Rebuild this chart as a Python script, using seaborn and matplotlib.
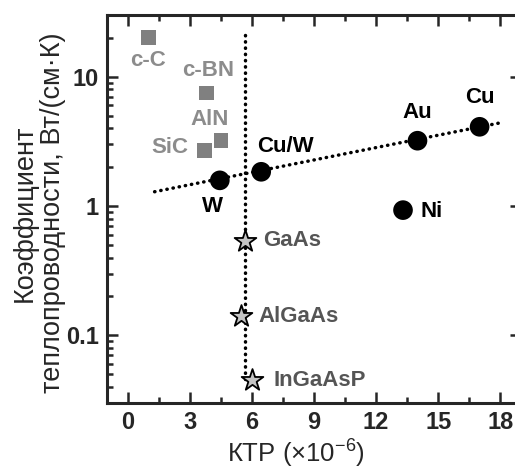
import numpy as np
import pandas as pd
import matplotlib
matplotlib.use("Agg")
import matplotlib.pyplot as plt
import seaborn as sns
from matplotlib.ticker import FixedLocator, LogLocator, NullFormatter, MultipleLocator

# metals (black circles)
metal_names = ["W", "Cu/W", "Au", "Cu", "Ni"]
metal_ktr = [4.45, 6.45, 14.0, 17.0, 13.3]
metal_k = [1.58, 1.84, 3.2, 4.1, 0.93]

# ceramics (gray squares)
cer_names = ["c-C", "c-BN", "AlN", "SiC"]
cer_ktr = [1.0, 3.8, 4.5, 3.7]
cer_k = [20.0, 7.5, 3.2, 2.7]

# semiconductors (stars)
semi_names = ["GaAs", "AlGaAs", "InGaAsP"]
semi_ktr = [5.65, 5.45, 6.0]
semi_k = [0.54, 0.14, 0.045]

# dotted guide lines
trend_x = [1.3, 18.0]
trend_y = [1.29, 4.4]
vert_x = [5.68, 5.68]
vert_y = [21.0, 0.046]

sns.set_theme(style="ticks")
plt.rcParams['font.family'] = ['Liberation Sans', 'DejaVu Sans']
plt.rcParams['mathtext.fontset'] = 'custom'
plt.rcParams['mathtext.rm'] = 'Liberation Sans'

fig = plt.figure(figsize=(5.15, 4.71), dpi=100)
ax = fig.add_axes([107/515, 1 - 403/471, (521-107)/515, (403-15)/471])

lw = dict(linestyle=(0, (0.1, 1.7)), linewidth=2.5, color="black",
          dash_capstyle="round", estimator=None, sort=False, legend=False)
sns.lineplot(x=trend_x, y=trend_y, ax=ax, **lw)
sns.lineplot(x=vert_x, y=vert_y, ax=ax, **lw)

sns.scatterplot(x=cer_ktr, y=cer_k, marker="s", s=110, color="#808080",
                edgecolor="none", ax=ax, zorder=3)
sns.scatterplot(x=metal_ktr, y=metal_k, marker="o", s=200, color="black",
                edgecolor="none", ax=ax, zorder=3)
sns.scatterplot(x=semi_ktr, y=semi_k, marker="*", s=270, color="#c4c4c4",
                edgecolor="black", linewidth=1.3, ax=ax, zorder=3)

# labels
fs = 16
metal_off = {"W": (-7, -26, "center"), "Cu/W": (24, 25, "center"),
             "Au": (0, 28, "center"), "Cu": (0, 29, "center"),
             "Ni": (17, -1, "left")}
for n, x, y in zip(metal_names, metal_ktr, metal_k):
    dx, dy, ha = metal_off[n]
    ax.annotate(n, (x, y), xytext=(dx, dy), textcoords="offset pixels",
                ha=ha, va="center", fontsize=fs, fontweight="bold", color="black")

cer_off = {"c-C": (0, -23, "center"), "c-BN": (2, 22, "center"),
           "AlN": (-11, 21, "center"), "SiC": (-16, 3, "right")}
for n, x, y in zip(cer_names, cer_ktr, cer_k):
    dx, dy, ha = cer_off[n]
    ax.annotate(n, (x, y), xytext=(dx, dy), textcoords="offset pixels",
                ha=ha, va="center", fontsize=fs, fontweight="bold", color="#8c8c8c")

semi_dx = [18, 18, 22]
for n, x, y, d in zip(semi_names, semi_ktr, semi_k, semi_dx):
    ax.annotate(n, (x, y), xytext=(d, 0), textcoords="offset pixels",
                ha="left", va="center", fontsize=fs, fontweight="bold", color="#555555")

ax.set_yscale("log")
ax.set_xlim(-1, 19)
ax.set_ylim(0.03, 30)
ax.xaxis.set_major_locator(MultipleLocator(3))
ax.xaxis.set_minor_locator(MultipleLocator(1.5))
ax.yaxis.set_major_locator(FixedLocator([0.1, 1, 10]))
ax.yaxis.set_minor_locator(LogLocator(base=10, subs=np.arange(2, 10)))
ax.yaxis.set_minor_formatter(NullFormatter())
ax.set_yticklabels(["0.1", "1", "10"])

ax.tick_params(which="both", direction="in", top=True, right=True, width=1.8,
               labelsize=17, pad=6)
ax.tick_params(which="major", length=8)
ax.tick_params(which="minor", length=4.5)
for lab in ax.get_xticklabels() + ax.get_yticklabels():
    lab.set_fontweight("bold")
for sp in ax.spines.values():
    sp.set_linewidth(2.2)

ax.set_xlabel("КТР (×10$^{-6}$)", fontsize=18.5)
ax.xaxis.set_label_coords((296-107)/(521-107), -0.085)
ax.set_ylabel("Коэффициент\nтеплопроводности, Вт/(см·К)", fontsize=19.5, linespacing=1.1)
ax.yaxis.set_label_coords(-0.1, 0.49)

fig.savefig("out.png", dpi=100)
